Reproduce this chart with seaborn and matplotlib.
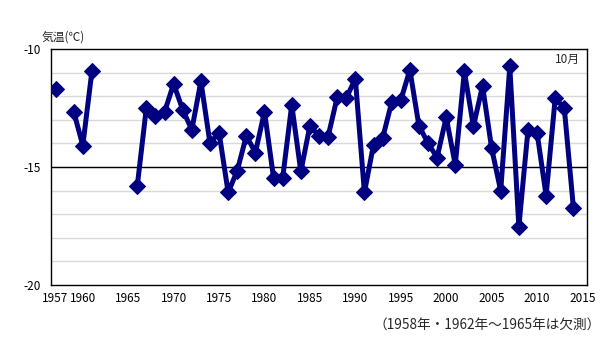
import numpy as np
import pandas as pd
import matplotlib
matplotlib.use("Agg")
import matplotlib.pyplot as plt
import seaborn as sns

years = [1957, 1959, 1960, 1961,
         1966, 1967, 1968, 1969, 1970, 1971, 1972, 1973, 1974, 1975,
         1976, 1977, 1978, 1979, 1980, 1981, 1982, 1983, 1984, 1985,
         1986, 1987, 1988, 1989, 1990, 1991, 1992, 1993, 1994, 1995,
         1996, 1997, 1998, 1999, 2000, 2001, 2002, 2003, 2004, 2005,
         2006, 2007, 2008, 2009, 2010, 2011, 2012, 2013, 2014]
temps = [-11.70, -12.65, -14.09, -10.95,
         -15.79, -12.48, -12.83, -12.67, -11.47, -12.58, -13.42, -11.37, -13.99, -13.54,
         -16.08, -15.16, -13.68, -14.39, -12.65, -15.47, -15.47, -12.36, -15.19, -13.25,
         -13.68, -13.71, -12.05, -12.08, -11.26, -16.08, -14.06, -13.78, -12.26, -12.18,
         -10.88, -13.25, -13.99, -14.60, -12.89, -14.91, -10.95, -13.28, -11.56, -14.20,
         -16.01, -10.74, -17.53, -13.45, -13.54, -16.21, -12.08, -12.50, -16.72]
xtick_years = [1957, 1960, 1965, 1970, 1975, 1980, 1985, 1990, 1995, 2000, 2005, 2010, 2015]
ytick_vals = [-20, -15, -10]

df = pd.DataFrame({"year": years, "temp": temps})
# split into continuous segments so gaps (missing years) are not joined
df["seg"] = (df["year"].diff().fillna(1) != 1).cumsum()

sns.set_theme(style="white")
plt.rcParams["font.family"] = ["Noto Sans CJK JP", "DejaVu Sans"]

fig = plt.figure(figsize=(6.08, 3.40), dpi=100)
ax = fig.add_axes([51 / 608, 1 - 285 / 340, (587 - 51) / 608, (285 - 49) / 340])

for v in np.arange(-19, -10):
    ax.axhline(v, color="#d9d9d9", lw=1, zorder=0)
ax.axhline(-15, color="black", lw=1, zorder=1)

sns.lineplot(data=df, x="year", y="temp", units="seg", estimator=None,
             color="#000080", lw=3.6, marker="D", markersize=8.5,
             markeredgecolor="#000080", ax=ax, legend=False, zorder=3)

ax.set_xlim(1956.5, 2015.5)
ax.set_ylim(-20, -10)
ax.set_xticks(xtick_years)
ax.set_xticklabels([str(y) for y in xtick_years], fontsize=8.5)
ax.set_yticks(ytick_vals)
ax.set_yticklabels([str(v) for v in ytick_vals], fontsize=8.5)
ax.tick_params(axis="y", length=0, pad=7, colors="black")
ax.tick_params(axis="x", length=0, pad=5, colors="black")
ax.set_xlabel("")
ax.set_ylabel("")
for s in ax.spines.values():
    s.set_color("black")
    s.set_linewidth(1)

fig.text(42 / 608, 1 - 37 / 340, "気温(℃)", fontsize=8.5, ha="left", va="center")
ax.text(0.987, 0.985, "10月", transform=ax.transAxes, fontsize=8.5, ha="right", va="top")
fig.text(601 / 608, 1 - 325 / 340, "（1958年・1962年～1965年は欠測）", fontsize=9.8,
         ha="right", va="center")

fig.savefig("out.png", dpi=100)
